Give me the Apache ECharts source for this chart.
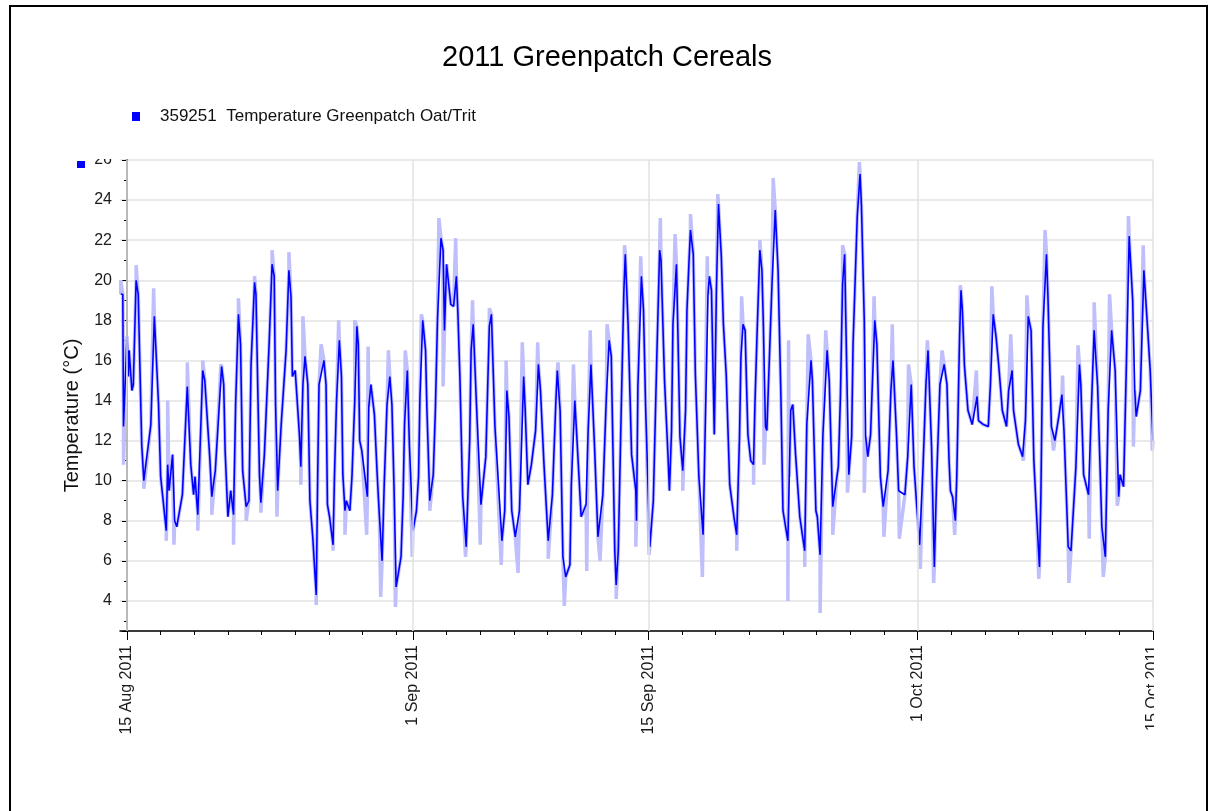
<!DOCTYPE html>
<html>
<head>
<meta charset="utf-8">
<title>2011 Greenpatch Cereals</title>
<script src="https://cdn.jsdelivr.net/npm/echarts@6/dist/echarts.min.js"></script>
<style>
  html, body { margin: 0; padding: 0; background: #fff; }
  #chart { width: 1220px; height: 811px; }
</style>
</head>
<body>
<div id="chart"></div>
<script>
  // hours counted from 15 Aug 2011 00:00
  var seriesName = '359251  Temperature Greenpatch Oat/Trit';

  var tickHours = [0, 408, 744, 1128, 1464];
  var tickLabels = ['15 Aug 2011', '1 Sep 2011', '15 Sep 2011', '1 Oct 2011', '15 Oct 2011'];
  var minorTickDays = [2, 4, 6, 8, 10, 12, 14, 16, 19, 21, 23, 25, 27, 29,
    33, 35, 37, 39, 41, 43, 45, 49, 51, 53, 55, 57, 59];

  // main (dark) trace
  var darkHours = [
    -9, -6, -5, 0, 2, 3, 7, 9, 13, 16,
    21, 24, 34, 39, 45, 48, 56, 58, 60, 65,
    68, 71, 79, 86, 91, 95, 97, 101, 108, 111,
    118, 121, 126, 135, 138, 140, 144, 148, 152, 155,
    159, 162, 165, 170, 174, 177, 182, 184, 189, 191,
    196, 203, 207, 210, 212, 215, 220, 227, 231, 234,
    236, 240, 246, 248, 251, 254, 258, 261, 265, 270,
    272, 274, 281, 284,
    286, 289, 294, 296, 299, 303, 306, 308, 311, 313,
    318, 321, 325, 328, 330, 332, 335, 343, 345, 348,
    353, 357, 360, 364, 367, 371, 375, 378, 381, 384,
    391, 394, 396, 400, 403, 408, 413, 416, 418, 422,
    426, 428, 432, 437, 440, 443, 448, 451, 453, 456,
    462, 466, 470, 472, 475, 479, 484, 489, 491, 494,
    499, 505, 512, 517, 520, 525, 535, 539, 542, 545,
    549, 554, 560, 566, 568, 572, 577,
    583, 587, 590, 595, 601, 607, 612, 614, 618, 622,
    626, 632, 634, 639, 644, 648, 655, 658, 662, 667,
    672, 679, 684, 688, 691, 696, 698, 701, 705, 709,
    711, 715, 720, 726, 727, 729, 734, 737, 740, 746,
    751, 756, 760, 762, 767, 772, 774, 777, 779, 784,
    786, 789, 793, 797, 799, 802, 804, 808, 811, 816,
    822, 824, 829, 831, 834, 838, 841, 844, 848, 851,
    855, 860, 866, 870,
    874, 876, 879, 882, 884, 886, 890, 894, 896, 899,
    903, 906, 908, 911, 913, 915, 920, 925, 929, 933,
    936, 943, 945, 947, 950, 954, 960, 967, 970, 976,
    978, 983, 985, 989, 993, 999, 1002, 1007, 1013, 1015,
    1018, 1021, 1024, 1027, 1030, 1034, 1036, 1042, 1046, 1048,
    1052, 1054, 1057, 1061, 1063, 1067, 1070, 1075, 1079, 1086,
    1090, 1093, 1098, 1101, 1110, 1114, 1119, 1123, 1127, 1131,
    1136, 1140, 1143, 1148, 1152, 1155, 1160, 1166, 1170, 1173,
    1175, 1178, 1182, 1184, 1188, 1190, 1192, 1195, 1200, 1206,
    1213, 1215, 1222, 1229, 1232, 1236, 1240, 1244, 1249, 1255,
    1258, 1263, 1265, 1272, 1278, 1282, 1286, 1290, 1294, 1298,
    1302, 1304, 1307, 1312, 1314, 1319, 1324, 1330, 1334, 1337,
    1343, 1347, 1354, 1359, 1361, 1365, 1372, 1375, 1380, 1385,
    1391, 1396, 1400, 1405, 1410, 1415, 1417, 1422, 1426, 1430,
    1435, 1438, 1440, 1446, 1451, 1457, 1460, 1464
  ];
  var darkTemps = [
    19.3, 19.3, 12.7, 17.2, 15.2, 16.5, 14.5, 14.8, 20.0, 19.3,
    11.8, 10.0, 12.8, 18.2, 13.8, 10.2, 7.5, 10.8, 9.5, 11.3,
    8.0, 7.7, 9.3, 14.7, 10.8, 9.3, 10.2, 8.3, 15.5, 15.0,
    11.2, 9.2, 10.5, 15.7, 14.8, 11.5, 8.2, 9.5, 8.3, 13.8,
    18.3, 16.8, 10.5, 8.7, 9.0, 15.8, 19.9, 19.3, 10.3, 8.9,
    11.3, 17.0, 20.8, 20.2, 13.8, 9.5, 12.8, 16.5, 20.5, 19.2,
    15.2, 15.5, 12.3, 10.7, 14.8, 16.2, 14.8, 9.0, 7.2, 4.3,
    10.0, 14.8, 16.0, 14.8,
    8.8, 8.2, 6.8, 10.2, 14.0, 17.0, 15.2, 10.3, 8.5, 9.0,
    8.5, 10.2, 14.0, 17.7, 16.8, 12.0, 11.5, 9.2, 13.7, 14.8,
    13.3, 10.3, 8.3, 6.0, 9.8, 13.8, 15.2, 13.8, 9.7, 4.7,
    6.2, 9.2, 12.8, 15.5, 11.7, 7.5, 8.5, 10.2, 14.2, 18.0,
    16.5, 13.5, 9.0, 10.3, 13.5, 18.0, 22.1, 21.5, 17.5, 20.8,
    18.8, 18.7, 20.2, 18.5, 15.2, 9.2, 6.7, 12.0, 16.5, 17.8,
    13.5, 8.8, 11.2, 17.7, 18.3, 12.7, 7.0, 8.5, 14.5, 13.2,
    8.5, 7.2, 8.5, 15.2, 13.7, 9.8, 10.8,
    12.5, 15.8, 14.5, 10.8, 7.0, 9.3, 14.0, 15.5, 13.5, 6.2,
    5.2, 5.8, 9.8, 14.0, 10.8, 8.2, 8.8, 12.5, 15.8, 11.8,
    7.2, 9.3, 14.2, 17.0, 16.2, 6.5, 4.8, 6.5, 13.2, 19.5,
    21.3, 17.8, 11.3, 9.5, 8.0, 14.7, 20.2, 18.5, 13.7, 6.7,
    9.0, 16.2, 21.5, 21.0, 15.0, 11.2, 9.5, 12.5, 17.8, 20.8,
    17.5, 12.2, 10.5, 13.5, 18.5, 21.0, 22.5, 21.3, 15.3, 10.2,
    7.3, 10.8, 19.3, 20.2, 19.5, 12.3, 19.5, 23.8, 21.2, 17.8,
    15.3, 9.8, 8.2, 7.3,
    12.2, 16.2, 17.8, 17.5, 14.8, 12.3, 11.0, 10.8, 13.8, 17.3,
    21.5, 20.5, 17.8, 12.7, 12.5, 14.5, 19.5, 23.5, 20.5, 14.3,
    8.5, 7.0, 10.2, 13.5, 13.8, 11.3, 8.2, 6.5, 12.8, 16.0,
    15.0, 8.5, 8.2, 6.3, 12.3, 16.5, 15.0, 8.7, 10.2, 10.7,
    14.2, 19.8, 21.3, 15.5, 10.3, 12.2, 16.8, 23.2, 25.3, 23.7,
    18.0, 12.2, 11.2, 12.3, 14.3, 18.0, 16.8, 10.2, 8.7, 10.5,
    14.5, 16.0, 12.3, 9.5, 9.3, 11.2, 14.8, 10.7, 8.7, 6.8,
    10.8, 14.8, 16.5, 11.7, 5.7, 9.8, 14.8, 15.8, 14.8, 11.0,
    9.5, 9.2, 8.0, 10.2, 17.2, 19.5, 18.5, 15.7, 13.5, 12.8,
    14.2, 13.0, 12.8, 12.7, 14.8, 18.3, 17.2, 15.7, 13.5, 12.7,
    14.5, 15.5, 13.5, 11.8, 11.2, 13.0, 18.2, 17.5, 11.0, 8.2,
    5.7, 9.2, 17.7, 21.3, 19.3, 12.7, 12.0, 13.3, 14.3, 12.5,
    6.7, 6.5, 10.7, 15.8, 14.8, 10.3, 9.3, 12.5, 17.5, 14.7,
    7.7, 6.2, 13.5, 17.5, 15.5, 9.2, 10.3, 9.7, 15.8, 22.2,
    19.0, 14.5, 13.2, 14.5, 20.5, 17.2, 15.5, 12.0
  ];

  // pale trace: short excursions beyond the main trace
  var spikeHours = [
    -9, -5, 13, 24, 38, 56, 58, 67, 86, 101,
    108, 121, 134, 152, 159, 170, 182, 191, 207, 214,
    231, 248, 251, 270, 277,
    294, 302, 311, 325, 342, 344, 362, 373, 383, 397,
    407, 420, 432, 445, 451, 469, 483, 493, 504, 517,
    534, 541, 558, 564,
    586, 601, 615, 624, 637, 656, 661, 675, 685, 698,
    710, 726, 733, 745, 761, 782, 793, 804, 821, 828,
    843, 870,
    877, 894, 903, 909, 922, 943, 944, 967, 972, 989,
    997, 1007, 1021, 1028, 1045, 1052, 1066, 1080, 1092, 1102,
    1115, 1132, 1142, 1151, 1163,
    1181, 1189, 1212, 1234, 1261, 1279, 1284, 1301, 1310, 1322,
    1335, 1344, 1357, 1373, 1380, 1393, 1402, 1413, 1429, 1436,
    1450, 1463
  ];
  var spikeTemps = [
    20.0, 10.8, 20.75, 9.6, 19.6, 7.0, 14.0, 6.8, 15.9, 7.5,
    16.0, 8.3, 15.8, 6.8, 19.1, 8.0, 20.2, 8.4, 21.5, 8.2,
    21.4, 9.8, 18.2, 3.8, 16.8,
    6.5, 18.0, 7.3, 18.0, 7.3, 16.7, 4.2, 16.5, 3.7, 16.5,
    6.2, 18.3, 8.5, 23.1, 14.7, 22.1, 6.2, 19.0, 6.8, 18.6,
    5.8, 16.0, 5.4, 16.9,
    16.9, 6.1, 15.9, 3.75, 15.8, 5.5, 17.5, 6.0, 17.8, 4.1,
    21.75, 6.7, 21.2, 6.3, 23.1, 22.3, 9.5, 23.3, 5.2, 21.2,
    24.3, 6.5,
    19.2, 9.8, 22.0, 10.8, 25.1, 4.0, 17.0, 5.7, 17.3, 3.4,
    17.5, 7.3, 21.75, 9.4, 25.9, 9.4, 19.2, 7.2, 17.8, 7.1,
    15.8, 5.6, 17.0, 4.9, 16.5,
    7.3, 19.75, 15.5, 19.7, 17.3, 11.0, 19.25, 5.1, 22.5, 11.5,
    15.25, 4.9, 16.75, 7.1, 18.9, 5.2, 19.3, 8.75, 23.2, 11.7,
    21.75, 11.5
  ];

  var darkData = darkHours.map(function (h, i) { return [h, darkTemps[i]]; });
  var paleData = darkData.concat(spikeHours.map(function (h, i) { return [h, spikeTemps[i]]; }))
    .sort(function (a, b) { return a[0] - b[0]; });
  var minorTickHours = minorTickDays.map(function (d) { return d * 24; });

  var chart = echarts.init(document.getElementById('chart'));
  var font = '"Liberation Sans", Arial, sans-serif';
  var option = {
    animation: false,
    textStyle: { fontFamily: font },
    title: {
      text: '2011 Greenpatch Cereals',
      left: 602,
      textAlign: 'center',
      top: 38,
      textStyle: { fontSize: 29, fontWeight: 'normal', color: '#000', fontFamily: font }
    },
    legend: {
      data: [{ name: seriesName, icon: 'rect' }],
      left: 127,
      top: 103,
      itemWidth: 8,
      itemHeight: 9,
      textStyle: { fontSize: 17, color: '#111', padding: [0, 0, 0, 15], fontFamily: font }
    },
    grid: { left: 120, right: 67, top: 160, bottom: 180, containLabel: false, outerBoundsMode: 'none' },
    xAxis: [{
      type: 'value',
      min: -10,
      max: 1464,
      axisLine: { onZero: false, lineStyle: { color: '#000', width: 1.5 } },
      axisTick: { customValues: tickHours, length: 9, lineStyle: { color: '#000' } },
      axisLabel: {
        customValues: tickHours,
        rotate: 90,
        margin: 14,
        fontSize: 16,
        color: '#1a1a1a',
        formatter: function (v) { return tickLabels[tickHours.indexOf(v)] || ''; }
      },
      splitLine: { show: false }
    }, {
      type: 'value',
      min: -10,
      max: 1464,
      position: 'bottom',
      axisLine: { show: false, onZero: false },
      axisTick: { customValues: minorTickHours, length: 4, lineStyle: { color: '#000' } },
      axisLabel: { show: false },
      splitLine: { show: false }
    }],
    yAxis: {
      type: 'value',
      min: 2.5,
      max: 26,
      minInterval: 2,
      maxInterval: 2,
      name: 'Temperature (°C)',
      nameLocation: 'middle',
      nameGap: 38,
      nameTextStyle: { fontSize: 20, color: '#111', fontFamily: font, padding: [0, 40, 0, 0] },
      axisLine: { show: true, lineStyle: { color: '#000', width: 1.5 } },
      axisTick: { show: true, length: 5, lineStyle: { color: '#000' } },
      minorTick: { show: true, splitNumber: 2, length: 3, lineStyle: { color: '#000' } },
      axisLabel: { fontSize: 16, color: '#1a1a1a', margin: 8, showMinLabel: false },
      splitLine: { lineStyle: { color: '#e2e2e2', width: 1.5 } }
    },
    series: [
      {
        name: 'gridlines',
        type: 'line',
        data: [],
        z: 1,
        silent: true,
        markLine: {
          silent: true,
          symbol: 'none',
          label: { show: false },
          lineStyle: { color: '#e2e2e2', type: 'solid', width: 1.5 },
          data: tickHours.map(function (h) { return { xAxis: h }; })
        }
      },
      {
        name: 'pale',
        type: 'line',
        data: paleData,
        showSymbol: false,
        z: 2,
        lineStyle: { color: '#bfbffb', width: 3.5 },
        itemStyle: { color: '#bfbffb' }
      },
      {
        name: seriesName,
        type: 'line',
        data: darkData,
        showSymbol: false,
        z: 3,
        lineStyle: { color: '#0000ff', width: 1.6 },
        itemStyle: { color: '#0000ff' }
      }
    ],
    graphic: [
      { type: 'rect', z: 100, shape: { x: 10, y: 6, width: 1197, height: 900 },
        style: { fill: 'none', stroke: '#000', lineWidth: 2 } },
      { type: 'rect', z: 100, shape: { x: 86, y: 146, width: 30, height: 13 }, style: { fill: '#fff' } },
      { type: 'rect', z: 100, shape: { x: 1154, y: 638, width: 45, height: 120 }, style: { fill: '#fff' } },
      { type: 'rect', z: 101, shape: { x: 77, y: 161, width: 8, height: 7 }, style: { fill: '#0000ff' } }
    ]
  };
  chart.setOption(option);
</script>
</body>
</html>
